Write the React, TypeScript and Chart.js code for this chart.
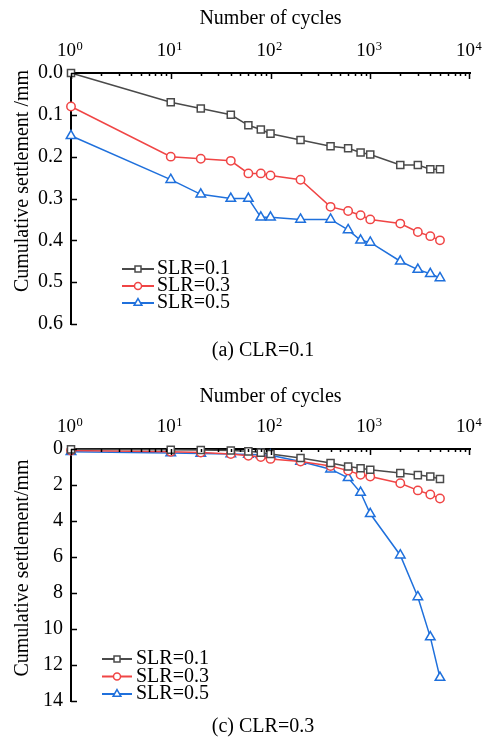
import React, { useEffect, useRef } from 'react';
import { Chart, registerables } from 'chart.js';

Chart.register(...registerables);

// ---- data ----
const cycles = [1, 10, 20, 40, 60, 80, 100, 200, 400, 600, 800, 1000, 2000, 3000, 4000, 5000];

// (a) CLR = 0.1
const clr01Slr01 = [0, 0.07, 0.085, 0.1, 0.125, 0.135, 0.145, 0.16, 0.175, 0.18, 0.19, 0.195, 0.22, 0.22, 0.23, 0.23];
const clr01Slr03 = [0.08, 0.2, 0.205, 0.21, 0.24, 0.24, 0.245, 0.255, 0.32, 0.33, 0.34, 0.35, 0.36, 0.38, 0.39, 0.4];
const clr01Slr05 = [0.15, 0.255, 0.29, 0.3, 0.3, 0.345, 0.345, 0.35, 0.35, 0.375, 0.4, 0.405, 0.45, 0.47, 0.48, 0.49];

// (c) CLR = 0.3
const clr03Slr01 = [0.02, 0.04, 0.06, 0.08, 0.13, 0.2, 0.28, 0.5, 0.78, 0.97, 1.07, 1.15, 1.34, 1.45, 1.53, 1.67];
const clr03Slr03 = [0.08, 0.15, 0.2, 0.28, 0.38, 0.45, 0.55, 0.7, 0.95, 1.2, 1.43, 1.53, 1.9, 2.3, 2.53, 2.75];
const clr03Slr05 = [0.15, 0.22, 0.25, 0.28, 0.3, 0.32, 0.35, 0.7, 1.12, 1.6, 2.42, 3.6, 5.9, 8.22, 10.45, 12.7];

const seriesLabels = ['SLR=0.1', 'SLR=0.3', 'SLR=0.5'];
const xTickValues = [1, 10, 100, 1000, 10000];
const xTickBase = '10';
const xTickExponents = ['0', '1', '2', '3', '4'];
const xTitle = 'Number of cycles';

const colors = ['#4a4a4a', '#f04545', '#1f70dc'];
const pointStyles = ['rect', 'circle', 'triangle'];
const pointRadii = [5, 4.2, 5.5];
const FONT = "'Liberation Serif', 'Times New Roman', serif";

type PanelCfg = {
  series: number[][];
  yMax: number;
  yStep: number;
  yDecimals: number;
  yTitle: string;
  yTitleY: number;
  caption: string;
  captionY: number;
  xAxisHeight: number;
  xTitlePad: number;
  bottomPad: number;
  legend: { x0: number; x1: number; textX: number; y0: number; dy: number };
};

const inwardTicks = {
  id: 'inwardTicks',
  afterDraw(chart: any) {
    const { ctx, chartArea, scales } = chart;
    const xs = scales.x;
    const ys = scales.y;
    ctx.save();
    ctx.strokeStyle = '#000';
    ctx.lineWidth = 1.5;
    ctx.beginPath();
    for (let e = 0; e < 4; e++) {
      for (let k = 1; k <= 9; k++) {
        const px = Math.round(xs.getPixelForValue(k * Math.pow(10, e))) + 0.5;
        const len = k === 1 ? 6 : 3;
        ctx.moveTo(px, chartArea.top);
        ctx.lineTo(px, chartArea.top + len);
      }
    }
    const pxEnd = Math.round(xs.getPixelForValue(10000)) - 0.5;
    ctx.moveTo(pxEnd, chartArea.top);
    ctx.lineTo(pxEnd, chartArea.top + 6);
    ys.ticks.forEach((t: any) => {
      const py = Math.round(ys.getPixelForValue(t.value)) + 0.5;
      ctx.moveTo(chartArea.left, py);
      ctx.lineTo(chartArea.left + 6, py);
    });
    ctx.stroke();

    // x tick labels: 10 with superscript exponent
    ctx.fillStyle = '#000';
    ctx.textBaseline = 'alphabetic';
    ctx.textAlign = 'left';
    const baseY = chartArea.top - 17.5;
    xs.ticks.forEach((t: any) => {
      const idx = xTickValues.indexOf(t.value);
      if (idx < 0) return;
      const px = xs.getPixelForValue(t.value);
      ctx.font = `19px ${FONT}`;
      const wBase = ctx.measureText(xTickBase).width;
      ctx.font = `12.5px ${FONT}`;
      const wExp = ctx.measureText(xTickExponents[idx]).width;
      const start = px - (wBase + wExp) / 2 - 1.5;
      ctx.font = `19px ${FONT}`;
      ctx.fillText(xTickBase, start, baseY);
      ctx.font = `12.5px ${FONT}`;
      ctx.fillText(xTickExponents[idx], start + wBase + 0.5, baseY - 6);
    });
    ctx.restore();
  },
};

function drawMarker(ctx: CanvasRenderingContext2D, style: string, x: number, y: number, r: number) {
  ctx.beginPath();
  if (style === 'rect') {
    ctx.rect(x - r, y - r, 2 * r, 2 * r);
  } else if (style === 'circle') {
    ctx.arc(x, y, r, 0, Math.PI * 2);
  } else {
    ctx.moveTo(x, y - r);
    ctx.lineTo(x + r * 0.866, y + r * 0.5);
    ctx.lineTo(x - r * 0.866, y + r * 0.5);
    ctx.closePath();
  }
  ctx.fillStyle = '#fff';
  ctx.fill();
  ctx.stroke();
}

function makeTextPlugin(cfg: PanelCfg) {
  return {
    id: 'panelTexts',
    afterDraw(chart: any) {
      const { ctx } = chart;
      ctx.save();
      ctx.fillStyle = '#000';
      ctx.font = `20px ${FONT}`;
      ctx.textAlign = 'center';
      ctx.textBaseline = 'middle';
      // caption
      ctx.fillText(cfg.caption, 263, cfg.captionY);
      // y title
      ctx.save();
      ctx.translate(23, cfg.yTitleY);
      ctx.rotate(-Math.PI / 2);
      ctx.fillText(cfg.yTitle, 0, 0);
      ctx.restore();
      // legend
      const L = cfg.legend;
      chart.data.datasets.forEach((ds: any, i: number) => {
        const y = L.y0 + i * L.dy;
        ctx.strokeStyle = ds.borderColor;
        ctx.lineWidth = 2;
        ctx.beginPath();
        ctx.moveTo(L.x0, y);
        ctx.lineTo(L.x1, y);
        ctx.stroke();
        ctx.lineWidth = 1.5;
        const mr = ds.pointStyle === 'rect' ? 3 : ds.pointStyle === 'circle' ? 3.5 : 4.5;
        drawMarker(ctx, ds.pointStyle, (L.x0 + L.x1) / 2, y, mr);
        ctx.fillStyle = '#000';
        ctx.textAlign = 'left';
        ctx.fillText(ds.label, L.textX, y);
      });
      ctx.restore();
    },
  };
}

function Panel({ top, height, cfg }: { top: number; height: number; cfg: PanelCfg }) {
  const ref = useRef<HTMLCanvasElement>(null);
  useEffect(() => {
    if (!ref.current) return;
    const chart = new Chart(ref.current, {
      type: 'line',
      data: {
        datasets: cfg.series.map((vals, i) => ({
          label: seriesLabels[i],
          data: cycles.map((c, j) => ({ x: c, y: vals[j] })),
          borderColor: colors[i],
          backgroundColor: '#fff',
          borderWidth: 1.5,
          pointStyle: pointStyles[i] as any,
          pointRadius: pointRadii[i],
          pointBorderWidth: 1.5,
          pointBackgroundColor: '#fff',
          pointBorderColor: colors[i],
          tension: 0,
          clip: false as any,
        })),
      },
      options: {
        responsive: false,
        animation: false,
        events: [],
        layout: { padding: { left: 0, top: 0, right: 14, bottom: cfg.bottomPad } },
        plugins: { legend: { display: false }, tooltip: { enabled: false }, title: { display: false } },
        scales: {
          x: {
            type: 'logarithmic',
            position: 'top',
            min: 1,
            max: 10000,
            afterBuildTicks: (scale: any) => {
              scale.ticks = xTickValues.map((v) => ({ value: v, major: true }));
            },
            afterFit: (scale: any) => {
              scale.height = cfg.xAxisHeight;
              scale.paddingLeft = 0;
              scale.paddingRight = 0;
            },
            ticks: {
              display: false,
              autoSkip: false,
              maxRotation: 0,
            },
            grid: { display: true, drawOnChartArea: false, drawTicks: false },
            border: { display: true, color: '#000', width: 2 },
            title: {
              display: true,
              text: xTitle,
              color: '#000',
              font: { family: FONT, size: 20 },
              padding: { top: cfg.xTitlePad, bottom: 0 },
            },
          },
          y: {
            type: 'linear',
            position: 'left',
            reverse: true,
            min: 0,
            max: cfg.yMax,
            afterFit: (scale: any) => {
              scale.width = 71;
              scale.paddingTop = 0;
              scale.paddingBottom = 0;
            },
            ticks: {
              stepSize: cfg.yStep,
              padding: 8,
              color: '#000',
              font: { family: FONT, size: 20 },
              callback: (v: any) => Number(v).toFixed(cfg.yDecimals),
            },
            grid: { display: true, drawOnChartArea: false, drawTicks: false },
            border: { display: true, color: '#000', width: 2 },
          },
        },
      },
      plugins: [inwardTicks, makeTextPlugin(cfg)],
    } as any);
    return () => chart.destroy();
  }, []);
  return (
    <canvas
      ref={ref}
      width={484}
      height={height}
      style={{ position: 'absolute', left: 0, top, width: 484, height, display: 'block' }}
    />
  );
}

const panelA: PanelCfg = {
  series: [clr01Slr01, clr01Slr03, clr01Slr05],
  yMax: 0.6,
  yStep: 0.1,
  yDecimals: 1,
  yTitle: 'Cumulative settlement /mm',
  yTitleY: 181,
  caption: '(a) CLR=0.1',
  captionY: 351,
  xAxisHeight: 73,
  xTitlePad: 7,
  bottomPad: 46,
  legend: { x0: 122, x1: 154, textX: 157, y0: 269, dy: 17 },
};

const panelC: PanelCfg = {
  series: [clr03Slr01, clr03Slr03, clr03Slr05],
  yMax: 14,
  yStep: 2,
  yDecimals: 0,
  yTitle: 'Cumulative settlement/mm',
  yTitleY: 198,
  caption: '(c) CLR=0.3',
  captionY: 357,
  xAxisHeight: 79,
  xTitlePad: 15,
  bottomPad: 39,
  legend: { x0: 102, x1: 132, textX: 136, y0: 289, dy: 17.5 },
};

export default function App() {
  return (
    <div style={{ position: 'absolute', left: 0, top: 0, width: 484, height: 740, background: '#fff' }}>
      <Panel top={0} height={370} cfg={panelA} />
      <Panel top={370} height={370} cfg={panelC} />
    </div>
  );
}
